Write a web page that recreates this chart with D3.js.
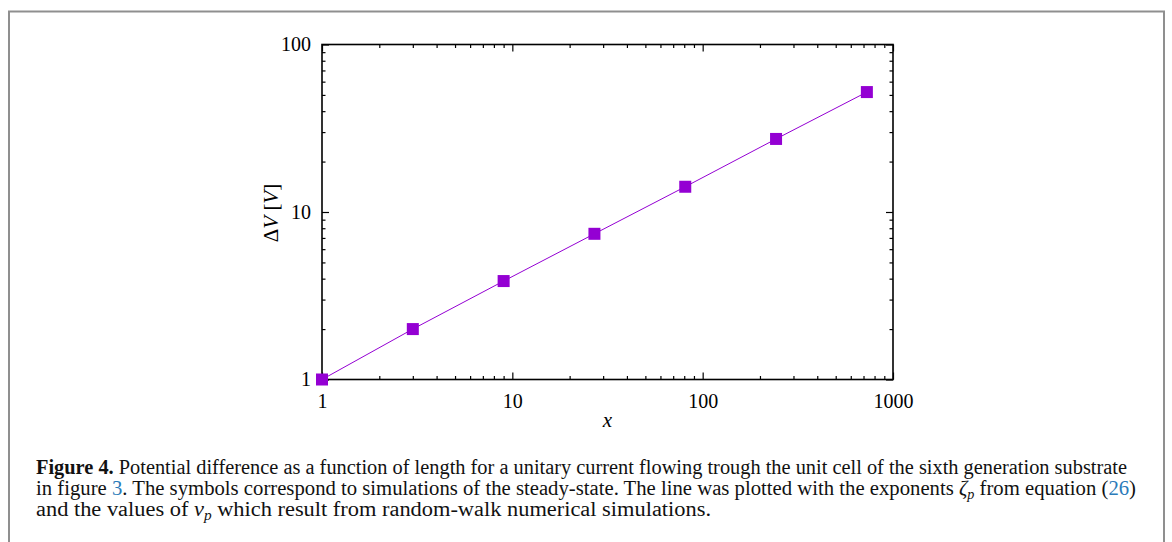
<!DOCTYPE html>
<html>
<head>
<meta charset="utf-8">
<script src="https://cdn.jsdelivr.net/npm/d3@7"></script>
<style>
  body { margin: 0; background: #fff; }
  svg text { font-family: "Liberation Serif", "DejaVu Serif", serif; }
</style>
</head>
<body>
<svg id="chart" width="1172" height="542"></svg>
<script>
// data: x = 3^n, potential difference
const lengths = [1, 3, 9, 27, 81, 243, 729];
const deltaV = [1, 2, 3.87, 7.41, 14.15, 27.3, 52.0];
const xTickLabels = [1, 10, 100, 1000];
const yTickLabels = [1, 10, 100];

const captionLines = [
  [{ t: "Figure 4.", b: true }, { t: " Potential difference as a function of length for a unitary current flowing trough the unit cell of the sixth generation substrate" }],
  [{ t: "in figure " }, { t: "3", link: true }, { t: ". The symbols correspond to simulations of the steady-state. The line was plotted with the exponents " }, { t: "ζ", i: true }, { t: "p", i: true, sub: true }, { t: " from equation (" }, { t: "26", link: true }, { t: ")" }],
  [{ t: "and the values of " }, { t: "ν", i: true }, { t: "p", i: true, sub: true }, { t: " which result from random-walk numerical simulations." }]
];

const svg = d3.select("#chart");
const margin = { left: 322, right: 279, top: 44.5, bottom: 162.5 };
const width = 1172 - margin.left - margin.right;
const height = 542 - margin.top - margin.bottom;
const purple = "#9400d3";

// figure frame
svg.append("rect")
  .attr("x", 9).attr("y", 11.5)
  .attr("width", 1155).attr("height", 560)
  .attr("fill", "none")
  .attr("stroke", "#8f8f8f")
  .attr("stroke-width", 2);

const g = svg.append("g").attr("transform", `translate(${margin.left},${margin.top})`);

const x = d3.scaleLog().domain([1, 1000]).range([0, width]);
const y = d3.scaleLog().domain([1, 100]).range([height, 0]);

const xMinor = x.ticks().filter(v => !xTickLabels.includes(v));
const yMinor = y.ticks().filter(v => !yTickLabels.includes(v));

function styleAxis(sel) {
  sel.select(".domain").remove();
  sel.selectAll("line").attr("stroke", "#000").attr("stroke-width", 1.2);
  sel.selectAll("text").attr("font-size", 20).attr("fill", "#000");
}

// major + minor ticks on all four sides, pointing inward
g.append("g").attr("transform", `translate(0,${height})`)
  .call(d3.axisBottom(x).tickValues(xTickLabels).tickFormat(d3.format("d")).tickSizeInner(-7).tickSizeOuter(0).tickPadding(14))
  .call(styleAxis);
g.append("g").attr("transform", `translate(0,${height})`)
  .call(d3.axisBottom(x).tickValues(xMinor).tickFormat("").tickSizeInner(-3.5).tickSizeOuter(0))
  .call(styleAxis);
g.append("g")
  .call(d3.axisTop(x).tickValues(xTickLabels).tickFormat("").tickSizeInner(-7).tickSizeOuter(0))
  .call(styleAxis);
g.append("g")
  .call(d3.axisTop(x).tickValues(xMinor).tickFormat("").tickSizeInner(-3.5).tickSizeOuter(0))
  .call(styleAxis);
g.append("g")
  .call(d3.axisLeft(y).tickValues(yTickLabels).tickFormat(d3.format("d")).tickSizeInner(-7).tickSizeOuter(0).tickPadding(11))
  .call(styleAxis);
g.append("g")
  .call(d3.axisLeft(y).tickValues(yMinor).tickFormat("").tickSizeInner(-3.5).tickSizeOuter(0))
  .call(styleAxis);
g.append("g").attr("transform", `translate(${width},0)`)
  .call(d3.axisRight(y).tickValues(yTickLabels).tickFormat("").tickSizeInner(-7).tickSizeOuter(0))
  .call(styleAxis);
g.append("g").attr("transform", `translate(${width},0)`)
  .call(d3.axisRight(y).tickValues(yMinor).tickFormat("").tickSizeInner(-3.5).tickSizeOuter(0))
  .call(styleAxis);

// plot frame
g.append("rect")
  .attr("width", width).attr("height", height)
  .attr("fill", "none").attr("stroke", "#000").attr("stroke-width", 1.6);

const points = lengths.map((d, i) => ({ x: d, y: deltaV[i] }));

g.append("path")
  .datum(points)
  .attr("d", d3.line().x(d => x(d.x)).y(d => y(d.y)))
  .attr("fill", "none")
  .attr("stroke", purple)
  .attr("stroke-width", 1);

const s = 12;
g.selectAll(".pt")
  .data(points)
  .join("rect")
  .attr("class", "pt")
  .attr("x", d => x(d.x) - s / 2)
  .attr("y", d => y(d.y) - s / 2)
  .attr("width", s).attr("height", s)
  .attr("fill", purple);

// axis labels
g.append("text")
  .attr("x", width / 2)
  .attr("y", height + 47)
  .attr("text-anchor", "middle")
  .attr("font-size", 21)
  .attr("font-style", "italic")
  .text("x");

const yl = g.append("text")
  .attr("transform", `translate(-44,${height / 2 + 1}) rotate(-90)`)
  .attr("text-anchor", "middle")
  .attr("font-size", 21);
yl.append("tspan").text("Δ");
yl.append("tspan").attr("font-style", "italic").text("V");
yl.append("tspan").text(" [");
yl.append("tspan").attr("font-style", "italic").text("V");
yl.append("tspan").text("]");

// caption
const capY = [474, 495, 516];
const capLen = [1091, 1100, 675];
captionLines.forEach((parts, li) => {
  const t = svg.append("text")
    .attr("x", 36).attr("y", capY[li])
    .attr("font-size", 20.5)
    .attr("fill", "#111")
    .attr("textLength", capLen[li])
    .attr("lengthAdjust", "spacingAndGlyphs");
  parts.forEach((p, k) => {
    const ts = t.append("tspan").text(p.t);
    if (p.b) ts.attr("font-weight", "bold");
    if (p.i) ts.attr("font-style", "italic");
    if (p.link) ts.attr("fill", "#2b7bb9");
    if (p.sub) ts.attr("font-size", 14).attr("dy", 4);
    else if (k > 0 && parts[k - 1].sub) ts.attr("dy", -4);
  });
});
</script>
</body>
</html>
